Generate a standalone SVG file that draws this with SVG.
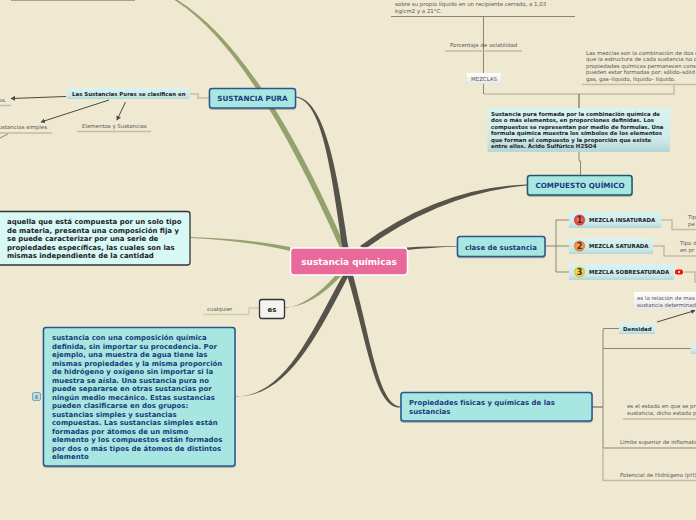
<svg xmlns="http://www.w3.org/2000/svg" width="696" height="520" viewBox="0 0 696 520">
<style>
text{font-family:"DejaVu Sans",Verdana,sans-serif}
.b{font-weight:bold}
.s{font-size:5.45px;fill:#555}
.t{font-size:5.45px;fill:#222;font-weight:bold}
.m{font-size:6.95px;fill:#1a3a7a;font-weight:bold}
.m2{font-size:7.2px;fill:#1a3a7a;font-weight:bold}
.h{font-size:6.95px;fill:#222;font-weight:bold}
.main{fill:#a8e7e1;stroke:#2a5590;stroke-width:1.5;filter:url(#sh)}
.l{fill:none;stroke:#8c8572;stroke-width:1}
.u{fill:none;stroke:#c3bca8;stroke-width:1.5}
.d{fill:#56544a}
.g{fill:#94a26e}
.tag{fill:url(#tg)}
.w{fill:url(#wg)}
.a{stroke:#4a4a42;stroke-width:1;fill:none;marker-end:url(#ah)}
.c{font-size:8px;font-weight:bold;fill:#333;text-anchor:middle}
</style>
<defs>
<filter id="sh" x="-5%" y="-10%" width="110%" height="125%"><feDropShadow dx="0" dy="1" stdDeviation=".6" flood-color="#000" flood-opacity=".3"/></filter>
<linearGradient id="tg" x1="0" y1="0" x2="0" y2="1"><stop offset="0" stop-color="#d8f3f2"/><stop offset=".7" stop-color="#cdeaea"/><stop offset="1" stop-color="#b4d6d6"/></linearGradient>
<linearGradient id="wg" x1="0" y1="0" x2="0" y2="1"><stop offset="0" stop-color="#fff"/><stop offset="1" stop-color="#e6e6e6"/></linearGradient>
<radialGradient id="r1"><stop offset="0" stop-color="#f88"/><stop offset="1" stop-color="#d32"/></radialGradient>
<radialGradient id="r2"><stop offset="0" stop-color="#fb8"/><stop offset="1" stop-color="#e72"/></radialGradient>
<radialGradient id="r3"><stop offset="0" stop-color="#fe8"/><stop offset="1" stop-color="#eb2"/></radialGradient>
<marker id="ah" markerWidth="5" markerHeight="5" refX="4" refY="2.5" orient="auto"><path d="M0 0L4.500 2.500L0 5z" fill="#4a4a42"/></marker>
</defs>
<rect width="696" height="520" fill="#f0e9d2"/>
<g id="connectors">
<path class="g" d="M174.500 0C238 41 292 141 340 248L346 248C298 139 242 39 176 -1z"/>
<path class="d" d="M296 97.500C322 101 331 170 342.500 248L348.500 248C337 170 325 100 296 96.500z"/>
<path class="d" d="M527 184.500Q440 187 360 246L365 249Q442 193 527 185.500z"/>
<path class="d" d="M458 246Q430 246 407 247.500L407 250Q430 247.500 458 246.500z"/>
<path class="d" d="M401 407.500C375 410 368 345 347 275L353 275C372 345 379 406 401 406.500z"/>
<path class="d" d="M236 397C285 395 310 335 343 275L349 275C316 338 287 397 236 396.500z"/>
<path class="g" d="M190 237Q250 239 290 247L290 251Q250 241 190 238z"/>
<path class="g" d="M285 307.500Q312 307 341 276L335 276Q310 304 285 308.500z"/>
<path d="M11 0H135" stroke="#a8a292" stroke-width="2" fill="none"/>
<path class="l" d="M391 16.500H575"/>
<path class="l" d="M483.500 16V94"/>
<path class="u" d="M445 51H522"/>
<path class="u" d="M484 94H674V84M582 84.500H696"/>
<path class="l" style="stroke-width:1.500" d="M579 94V108"/>
<path class="l" d="M579 152V161H580.500V175"/>
<path class="u" d="M190 94H198V98H209"/>
<path class="a" d="M66 96.500L11 98.500"/>
<path class="a" d="M109 100L41 122"/>
<path class="a" d="M125.500 102L117 120"/>
<path class="u" d="M0 105.500H11M0 133H52M77 131.500H151"/>
<path class="l" d="M8 134L0 138"/>
<path class="u" d="M203 314.500H249V308H259" style="stroke:#cfd0a8"/>
<path class="l" d="M545 246H556M569 220H556V272H569M556 246H569"/>
<path class="u" d="M661 220H672V229.500H696M653 246H664V256H696M684 272H695V282H696"/>
<path class="l" style="stroke-width:1.500" d="M592 407H603"/>
<path class="l" d="M603 329V448M603 328.500H619M603 348.500H691M603 448H696"/>
<path class="u" d="M603 448V480.500H696M623 419H696"/>
<path class="a" d="M657 322L695 310.500"/>
</g>
<g id="n-center"><rect x="290.500" y="248" width="117" height="27" rx="3.500" fill="#e9699a" stroke="#fff" stroke-width="1.500"/><text x="349" y="265" font-size="8.900" class="b" fill="#fff" text-anchor="middle">sustancia químicas</text></g>
<g id="n-pura"><rect x="209.500" y="88.500" width="86" height="19.500" rx="2.500" class="main"/><text x="252.500" y="101" class="m2" text-anchor="middle">SUSTANCIA PURA</text></g>
<g id="n-compuesto"><rect x="527.500" y="175.500" width="104.500" height="19.500" rx="2.500" class="main" style="stroke:#1d5a6a"/><text x="580" y="188" class="m2" text-anchor="middle">COMPUESTO QUÍMICO</text></g>
<g id="n-clase"><rect x="457.500" y="236.500" width="87.500" height="20" rx="2.500" class="main"/><text x="501" y="249.500" class="m" text-anchor="middle">clase de sustancia</text></g>
<g id="n-prop"><rect x="401" y="392.500" width="191" height="28.500" rx="2.500" class="main"/><text class="m"><tspan x="409" y="405">Propiedades físicas y químicas de las</tspan><tspan x="409" y="414">sustancias</tspan></text></g>
<g id="n-aquella"><rect x="-3" y="211.500" width="193" height="53.500" rx="2.500" fill="#d8f8f6" stroke="#333" stroke-width="1.300"/><text class="h"><tspan x="7" y="224">aquella que está compuesta por un solo tipo</tspan><tspan x="7" y="232.500">de materia, presenta una composición fija y</tspan><tspan x="7" y="241">se puede caracterizar por una serie de</tspan><tspan x="7" y="249.500">propiedades específicas, las cuales son las</tspan><tspan x="7" y="258">mismas independiente de la cantidad</tspan></text></g>
<g id="n-es"><rect x="259.500" y="299.500" width="25" height="19" rx="2.500" fill="#f3f3f0" stroke="#333" stroke-width="1.300"/><text x="272" y="312" class="h" text-anchor="middle">es</text></g>
<g id="n-cualquier"><text x="207" y="311" class="s">cualquier</text></g>
<g id="n-sustancia"><rect x="43.500" y="327.500" width="191.500" height="138.500" rx="2.500" class="main"/><text class="m"><tspan x="52" y="340">sustancia con una composición química</tspan><tspan x="52" y="348.500">definida, sin importar su procedencia. Por</tspan><tspan x="52" y="357">ejemplo, una muestra de agua tiene las</tspan><tspan x="52" y="365.500">mismas propiedades y la misma proporción</tspan><tspan x="52" y="374">de hidrógeno y oxígeno sin importar si la</tspan><tspan x="52" y="382.500">muestra se aísla. Una sustancia pura no</tspan><tspan x="52" y="391">puede separarse en otras sustancias por</tspan><tspan x="52" y="399.500">ningún medio mecánico. Estas sustancias</tspan><tspan x="52" y="408">pueden clasificarse en dos grupos:</tspan><tspan x="52" y="416.500">sustancias simples y sustancias</tspan><tspan x="52" y="425">compuestas. Las sustancias simples están</tspan><tspan x="52" y="433.500">formadas por átomos de un mismo</tspan><tspan x="52" y="442">elemento y los compuestos están formados</tspan><tspan x="52" y="450.500">por dos o más tipos de átomos de distintos</tspan><tspan x="52" y="459">elemento</tspan></text><rect x="32.500" y="392.500" width="8" height="8" rx="1.500" fill="#b8e0e0" stroke="#5a9ab0" stroke-width=".8"/><text x="36.500" y="399" font-size="5px" fill="#336" text-anchor="middle">6</text></g>
<g id="n-clasifican"><rect x="67" y="88" width="123" height="11" rx="1.500" class="tag"/><text x="72" y="96" class="t">Las Sustancias Puras se clasifican en</text></g>
<g id="n-elementos"><text x="82" y="128" class="s">Elementos y Sustancias</text></g>
<g id="n-simples"><text x="47" y="129" class="s" text-anchor="end">Sustancias simples</text></g>
<g id="n-os"><text x="6.500" y="102" class="s" text-anchor="end">os.</text></g>
<g id="n-top"><text class="s"><tspan x="395" y="6">sobre su propio líquido en un recipiente cerrado, a 1,03</tspan><tspan x="395" y="12.500">kg/cm2 y a 21°C.</tspan></text></g>
<g id="n-volatilidad"><text x="450" y="47" class="s">Porcentaje de volatilidad</text></g>
<g id="n-mezclas"><rect x="467" y="73" width="34" height="11" class="w"/><text x="471" y="81" class="s">MEZCLAS</text></g>
<g id="n-mezdesc"><text class="s"><tspan x="586" y="55">Las mezclas son la combinación de dos o</tspan><tspan x="586" y="61">que la estructura de cada sustancia no c</tspan><tspan x="586" y="67.500">propiedades químicas permanecen cons</tspan><tspan x="586" y="73.500">pueden estar formadas por: sólido–sólid</tspan><tspan x="586" y="81">gas, gas–líquido, líquido– líquido.</tspan></text></g>
<g id="n-compdesc"><rect x="487.500" y="108" width="182.500" height="44" class="tag"/><text class="t"><tspan x="491" y="116">Sustancia pura formada por la combinación química de</tspan><tspan x="491" y="122">dos o más elementos, en proporciones definidas. Los</tspan><tspan x="491" y="129">compuestos se representan por medio de formulas. Una</tspan><tspan x="491" y="135">formula química muestra los símbolos de los elementos</tspan><tspan x="491" y="142">que forman el compuesto y la proporción que existe</tspan><tspan x="491" y="148">entre ellos. Ácido Sulfúrico H2SO4</tspan></text></g>
<g id="n-ins"><rect x="569" y="212" width="92" height="16" class="tag"/><circle cx="579.500" cy="220" r="5.500" fill="url(#r1)"/><text x="579.500" y="223" class="c">1</text><text x="589" y="222" class="t">MEZCLA INSATURADA</text><text class="s"><tspan x="688" y="219">Tipo</tspan><tspan x="688" y="226">pe</tspan></text></g>
<g id="n-sat"><rect x="569" y="238" width="84" height="16" class="tag"/><circle cx="579.500" cy="246" r="5.500" fill="url(#r2)"/><text x="579.500" y="249" class="c">2</text><text x="589" y="248" class="t">MEZCLA SATURADA</text><text class="s"><tspan x="680" y="245">Tipo d</tspan><tspan x="680" y="252">en pr</tspan></text></g>
<g id="n-sob"><rect x="569" y="264" width="105" height="16" class="tag"/><circle cx="579.500" cy="272" r="5.500" fill="url(#r3)"/><text x="579.500" y="275" class="c">3</text><text x="589" y="274" class="t">MEZCLA SOBRESATURADA</text><rect x="675" y="269.500" width="8" height="5" rx="2" fill="#f01010"/><rect x="678" y="271" width="2" height="2" fill="#fcc"/></g>
<g id="n-dens"><rect x="634" y="292" width="62" height="18" class="w"/><text class="s"><tspan x="637" y="300">es la relación de mas</tspan><tspan x="637" y="306.500">sustancia determinad</tspan></text></g>
<g id="n-densidad"><rect x="619" y="323" width="36" height="11" class="tag"/><text x="623" y="331" class="t">Densidad</text></g>
<rect id="n-tag2" x="691" y="343" width="5" height="11" class="tag"/>
<g id="n-estado"><text class="s"><tspan x="627" y="408">es el estado en que se pr</tspan><tspan x="627" y="415">sustancia; dicho estado p</tspan></text></g>
<g id="n-limite"><text x="620" y="444" class="s">Límite superior de inflamabil</text></g>
<g id="n-ph"><text x="620" y="477" class="s">Potencial de Hidrógeno (pH)</text></g>
</svg>
